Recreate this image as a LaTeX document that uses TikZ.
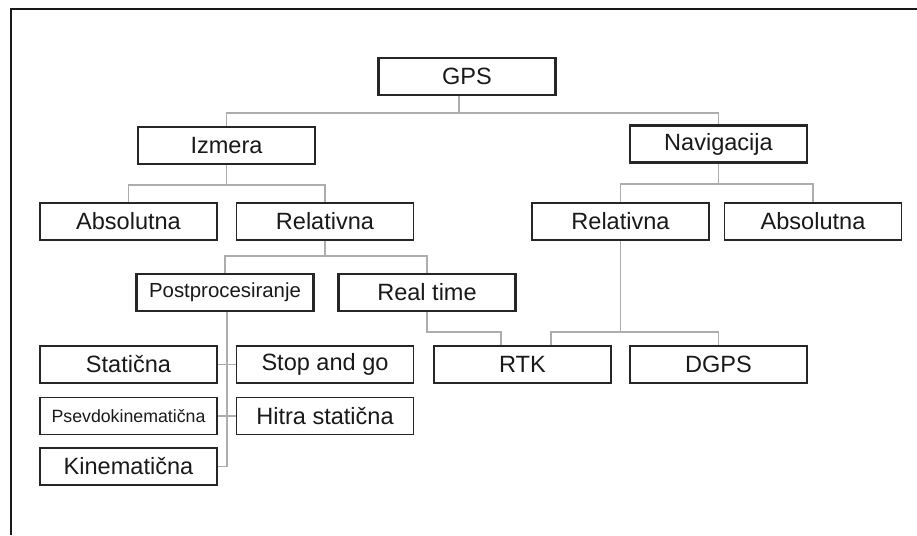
\documentclass[tikz,border=0pt]{standalone}
\usepackage{fontspec}
\setmainfont{Liberation Sans}
\usepackage{xcolor}
\usepackage{tikz}
\tikzstyle{every node}=[draw=black!85,line width=0.85pt,rectangle,inner sep=0pt,minimum width=3.54cm,minimum height=0.74cm,text=black!90,font=\fontsize{13.4}{15}\selectfont]
\tikzstyle{keybox}=[line width=1.5pt]
\tikzstyle{link}=[draw=black!32,line width=0.8pt]
\tikzstyle{frame}=[draw=black!90,line width=1.2pt]

\begin{document}
\begin{tikzpicture}[x=0.02cm,y=-0.02cm]
		\useasboundingbox (0,0) rectangle (917,535);
		\draw[frame] (11,535) -- (11,9) -- (917,9);
		\node[keybox] (gps) at (467,76.5) {GPS};
		\node (izmera) at (226.5,145.5) {Izmera};
		\node[keybox] (navigacija) at (718.5,144) {Navigacija};
		\node (absL) at (128.5,221.5) {Absolutna};
		\node (relL) at (325,221.5) {Relativna};
		\node (relR) at (620.5,221.5) {Relativna};
		\node (absR) at (813,221.5) {Absolutna};
		\node[keybox,font=\fontsize{11.6}{13}\selectfont] (post) at (225,292.5) {Postprocesiranje};
		\node[keybox] (real) at (427,292.5) {Real time};
		\node (stat) at (128.5,364.5) {Statična};
		\node (stop) at (325,364.5) {Stop and go};
		\node[font=\fontsize{10.1}{12}\selectfont] (psev) at (128.5,416) {Psevdokinematična};
		\node (hitra) at (325,416) {Hitra statična};
		\node (kin) at (128.5,466.5) {Kinematična};
		\node (rtk) at (522.5,364.5) {RTK};
		\node (dgps) at (718.5,364.5) {DGPS};
		% bus points
		\coordinate (gb) at (459,113);
		\coordinate (ib) at (227,185);
		\coordinate (nb) at (719,184);
		\coordinate (rb) at (325,256);
		\coordinate (ps) at (227,466.5);
		\coordinate (rt) at (501,332);
		\coordinate (rk) at (551,332);
		\coordinate (rr) at (621,332);
		% connectors
		\draw[link] (gps.south -| gb) -- (gb);
		\draw[link] (izmera.north) |- (gb) -| (navigacija.north);
		\draw[link] (izmera.south) -- (izmera.south |- ib);
		\draw[link] (absL.north) |- (ib) -| (relL.north);
		\draw[link] (navigacija.south) -- (navigacija.south |- nb);
		\draw[link] (relR.north) |- (nb) -| (absR.north);
		\draw[link] (relL.south) -- (rb);
		\draw[link] (post.north) |- (rb) -| (real.north);
		\draw[link] (post.south -| ps) -- (ps) -- (kin.east);
		\draw[link] (stat.east) -- (stop.west);
		\draw[link] (psev.east) -- (hitra.west);
		\draw[link] (real.south) |- (rt) -- (rt |- rtk.north);
		\draw[link] (relR.south) -- (relR.south |- rr);
		\draw[link] (rtk.north -| rk) |- (rr) -| (dgps.north);
\end{tikzpicture}
\end{document}
